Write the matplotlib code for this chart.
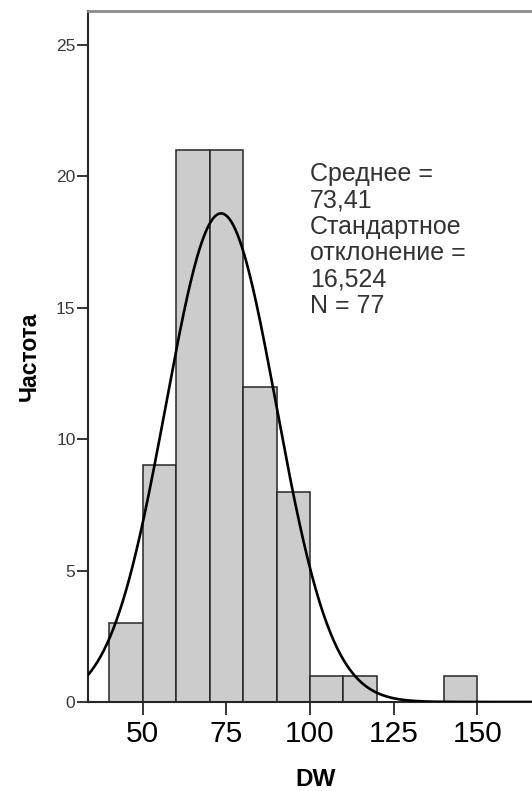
import numpy as np
import matplotlib.pyplot as plt

plt.rcParams['font.family'] = ['Liberation Sans', 'DejaVu Sans']

# histogram of DW, bins of width 10
bin_left = [40, 50, 60, 70, 80, 90, 100, 110, 120, 130, 140]
counts = [3, 9, 21, 21, 12, 8, 1, 1, 0, 0, 1]
bin_width = 10

mean = 73.41
std = 16.524
n = 77

stats_text = "Среднее =\n73,41\nСтандартное\nотклонение =\n16,524\nN = 77"

x_ticks = [50, 75, 100, 125, 150]
y_ticks = [0, 5, 10, 15, 20, 25]

fig = plt.figure(figsize=(5.32, 7.91), dpi=100)
# right spine sits outside the canvas on purpose
ax = fig.add_axes([88 / 532, 89 / 791, 472 / 532, 691 / 791])

ax.bar(bin_left, counts, width=bin_width, align='edge',
       color='#cccccc', edgecolor='#262626', linewidth=1.1, zorder=2)

# normal curve scaled to counts
xs = np.linspace(33.65, 175, 600)
ys = n * bin_width * np.exp(-0.5 * ((xs - mean) / std) ** 2) / (std * np.sqrt(2 * np.pi))
ax.plot(xs, ys, color='black', linewidth=1.9, zorder=3)

ax.set_xlim(33.65, 174.7)
ax.set_ylim(0, 26.29)

ax.set_xticks(x_ticks)
ax.set_yticks(y_ticks)
ax.set_yticklabels([str(v) for v in y_ticks], color='#3a3a3a', fontsize=12.5)
ax.set_xticklabels([str(v) for v in x_ticks], fontsize=21.5)
ax.tick_params(axis='y', length=8, width=1.3, color='#262626', pad=1)
ax.tick_params(axis='x', length=9, width=1.3, color='#262626', pad=4)

for side in ['left', 'bottom']:
    ax.spines[side].set_color('#262626')
    ax.spines[side].set_linewidth(1.5)
ax.spines['top'].set_color('#8c8c8c')
ax.spines['top'].set_linewidth(2)
ax.spines['right'].set_visible(False)

ax.set_ylabel('Частота', fontsize=16.5, fontweight='bold', labelpad=11)
ax.set_xlabel('DW', fontsize=17.5, fontweight='bold')
ax.xaxis.set_label_coords(0.483, -0.095)

ax.text(100.0, 20.55, stats_text, fontsize=18, color='#333333',
        va='top', ha='left', linespacing=1.13)

fig.savefig('out.png', dpi=100)
